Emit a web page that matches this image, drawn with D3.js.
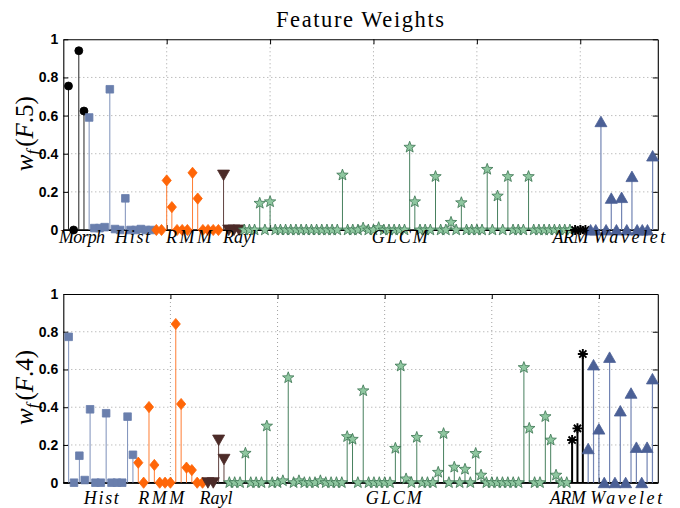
<!DOCTYPE html>
<html>
<head>
<meta charset="utf-8">
<script src="https://cdn.jsdelivr.net/npm/d3@7"></script>
<style>
body { margin: 0; background: #fff; }
</style>
</head>
<body>
<div id="chart"></div>
<script>
// feature weights for F.5 (top panel)
var morphF5 = [0.755, 0, 0.94, 0.624];
var histF5 = [0.59, 0.01, 0.01, 0.015, 0.738, 0.005, 0, 0.166, 0, 0, 0.005, 0, 0];
var rmmF5 = [0, 0, 0.26, 0.12, 0, 0, 0, 0.30, 0.165, 0, 0, 0, 0];
var raylF5 = [0.288, 0, 0, 0];
var glcmF5 = [0, 0, 0, 0.14, 0, 0.148,
  0, 0, 0, 0, 0, 0, 0, 0, 0, 0, 0, 0, 0,
  0.288, 0, 0, 0, 0.01, 0, 0, 0.012,
  0, 0, 0, 0, 0,
  0.434, 0.148, 0, 0, 0, 0.28, 0, 0, 0.04, 0, 0.143,
  0, 0, 0, 0, 0.318, 0, 0.178, 0, 0.28, 0, 0, 0, 0.28,
  0, 0, 0, 0, 0, 0, 0, 0];
var armF5 = [0, 0, 0];
var waveletF5 = [0, 0, 0.568, 0, 0.166, 0, 0.17, 0, 0.28, 0, 0, 0, 0.388];

// feature weights for F.4 (bottom panel, no Morph group)
var histF4 = [0.773, 0, 0.143, 0.014, 0.389, 0, 0, 0.368, 0, 0, 0, 0.35, 0.148];
var rmmF4 = [0.106, 0, 0.401, 0.094, 0, 0, 0, 0.841, 0.417, 0.08, 0.067, 0, 0];
var raylF4 = [0, 0, 0.226, 0.124];
var glcmF4 = [0, 0, 0, 0.156, 0, 0, 0, 0.30, 0, 0, 0.01, 0.556,
  0, 0.01, 0, 0, 0, 0.01, 0, 0, 0, 0,
  0.244, 0.23, 0, 0.487,
  0, 0, 0, 0, 0,
  0.182, 0.618, 0.02, 0, 0.24, 0, 0, 0, 0.055, 0.26, 0, 0.082, 0, 0.071, 0, 0.155, 0.04,
  0, 0, 0, 0, 0, 0, 0,
  0.61, 0.288, 0, 0, 0.35, 0.226, 0.04, 0, 0];
var armF4 = [0.226, 0.288, 0.682];
var waveletF4 = [0.18, 0.624, 0.284, 0, 0.664, 0, 0.38, 0, 0.474, 0.187, 0, 0.187, 0.55];

// group label positions (feature index units)
var labelPosF5 = [3.6, 13.4, 24.3, 34.1, 65.1, 98.1, 109.5];
var labelPosF4 = [7.1, 18.3, 28.5, 61.7, 94.2, 105.1];

var yTicks = [0, 0.2, 0.4, 0.6, 0.8, 1];
var yTickLabels = ["0", "0.2", "0.4", "0.6", "0.8", "1"];
var xGridTicks = [20, 40, 60, 80, 100];

var svgWidth = 680;
var svgHeight = 508;

var svg = d3.select("#chart")
  .append("svg")
  .attr("width", svgWidth)
  .attr("height", svgHeight)
  .style("font-family", "'Liberation Sans', Arial, sans-serif");

// star path for GLCM markers
function starPath(R, r) {
  var pts = [];
  for (var i = 0; i < 10; i++) {
    var a = -Math.PI / 2 + i * Math.PI / 5;
    var rad = i % 2 === 0 ? R : r;
    pts.push([rad * Math.cos(a), rad * Math.sin(a)]);
  }
  return "M" + pts.map(p => p[0].toFixed(2) + "," + p[1].toFixed(2)).join("L") + "Z";
}

var shapes = {
  circle: "M4,0A4,4 0 1,1 -4,0A4,4 0 1,1 4,0Z",
  square: "M-3.8,-3.8H3.8V3.8H-3.8Z",
  diamond: "M0,-5.6L4.6,0L0,5.6L-4.6,0Z",
  triDown: "M0,5.5L6,-5L-6,-5Z",
  triUp: "M0,-5.5L6,5L-6,5Z",
  star: starPath(6, 2.5),
  asterisk: "M-5,0H5M0,-5V5M-3.6,-3.6L3.6,3.6M-3.6,3.6L3.6,-3.6"
};

var groupStyle = {
  Morph:   {shape: "circle",   fill: "#000",    stroke: "#000",    stem: "#222",    sw: 1},
  Hist:    {shape: "square",   fill: "#6a7fad", stroke: "#6a7fad", stem: "#7d90ba", sw: 1},
  RMM:     {shape: "diamond",  fill: "#ff6608", stroke: "#ff6608", stem: "#ff7d33", sw: 1},
  Rayl:    {shape: "triDown",  fill: "#4c2b28", stroke: "#4c2b28", stem: "#60423f", sw: 1},
  GLCM:    {shape: "star",     fill: "#8fc7a0", stroke: "#3a7350", stem: "#47805e", sw: 1},
  ARM:     {shape: "asterisk", fill: "none",    stroke: "#000",    stem: "#000",    sw: 2},
  Wavelet: {shape: "triUp",    fill: "#4b6096", stroke: "#4b6096", stem: "#7284b3", sw: 1.2}
};

// rendered width of each group name (math italic look)
var labelWidth = {Morph: 46, Hist: 35, RMM: 46, Rayl: 33, GLCM: 56, ARM: 36, Wavelet: 72};

function drawPanel(groups, labelPos, top, bottom, labelOffset, yLabelSuffix) {
  var left = 63.3, right = 657.8;
  var total = d3.sum(groups, g => g.values.length);

  var x = d3.scaleLinear().domain([0, total + 1]).range([left, right]);
  var y = d3.scaleLinear().domain([0, 1]).range([bottom, top]);

  var g = svg.append("g");

  // dotted grid
  g.selectAll(".hgrid").data(yTicks.slice(1, -1)).enter()
    .append("line")
    .attr("x1", left).attr("x2", right)
    .attr("y1", d => y(d)).attr("y2", d => y(d))
    .attr("stroke", "#8a8a8a").attr("stroke-width", 0.8)
    .attr("stroke-dasharray", "1,3");
  g.selectAll(".vgrid").data(xGridTicks).enter()
    .append("line")
    .attr("x1", d => x(d)).attr("x2", d => x(d))
    .attr("y1", top).attr("y2", bottom)
    .attr("stroke", "#8a8a8a").attr("stroke-width", 0.8)
    .attr("stroke-dasharray", "1,3");

  // axes box with inward ticks
  g.append("g").attr("transform", `translate(${left},0)`)
    .call(d3.axisLeft(y).tickValues(yTicks).tickSize(-5).tickSizeOuter(0)
      .tickPadding(5).tickFormat((d, i) => yTickLabels[i]))
    .call(a => a.selectAll("text").attr("font-size", 14).attr("font-weight", "bold")
      .attr("fill", "#000").attr("font-family", "'Liberation Sans', Arial, sans-serif"));
  g.append("g").attr("transform", `translate(${right},0)`)
    .call(d3.axisRight(y).tickValues(yTicks).tickSize(-5).tickSizeOuter(0).tickFormat(""));
  g.append("g").attr("transform", `translate(0,${top})`)
    .call(d3.axisTop(x).tickValues(xGridTicks).tickSize(-5).tickSizeOuter(0).tickFormat(""));
  g.append("g").attr("transform", `translate(0,${bottom})`)
    .call(d3.axisBottom(x).tickValues(xGridTicks).tickSize(-5).tickSizeOuter(0).tickFormat(""));
  g.selectAll(".domain").attr("stroke", "#000").attr("stroke-width", 1.1);

  // baseline
  g.append("line")
    .attr("x1", left).attr("x2", right)
    .attr("y1", y(0)).attr("y2", y(0))
    .attr("stroke", "#000").attr("stroke-width", 1.6);

  // stems + markers per group
  var start = 1;
  groups.forEach(function(grp) {
    var st = groupStyle[grp.name];
    var pts = grp.values.map((v, i) => ({idx: start + i, v: v}));
    start += grp.values.length;

    g.selectAll(null).data(pts).enter()
      .append("line")
      .attr("x1", d => x(d.idx)).attr("x2", d => x(d.idx))
      .attr("y1", y(0)).attr("y2", d => y(d.v))
      .attr("stroke", st.stem).attr("stroke-width", st.sw);

    g.selectAll(null).data(pts).enter()
      .append("path")
      .attr("d", shapes[st.shape])
      .attr("transform", d => `translate(${x(d.idx)},${y(d.v)})`)
      .attr("fill", st.fill)
      .attr("stroke", st.stroke)
      .attr("stroke-width", st.shape === "asterisk" ? 1.9 : 0.8);
  });

  // group labels under the axis
  g.selectAll(".glabel").data(groups).enter()
    .append("text")
    .attr("x", (d, i) => x(labelPos[i]))
    .attr("y", bottom + labelOffset)
    .attr("text-anchor", "middle")
    .attr("font-family", "'Liberation Serif', 'Times New Roman', serif")
    .attr("font-style", "italic")
    .attr("font-size", 18)
    .attr("textLength", d => labelWidth[d.name])
    .attr("lengthAdjust", "spacing")
    .text(d => d.name);

  // y label w_f(F.x)
  var yl = g.append("text")
    .attr("transform", `translate(33,${(top + bottom) / 2 - 1}) rotate(-90)`)
    .attr("text-anchor", "middle")
    .attr("font-family", "'Liberation Serif', 'Times New Roman', serif")
    .attr("font-size", 25);
  yl.append("tspan").attr("font-style", "italic").text("w");
  yl.append("tspan").attr("font-style", "italic").attr("font-size", 17).attr("dy", 5).text("f");
  yl.append("tspan").attr("dy", -5).attr("dx", 3).text("(");
  yl.append("tspan").attr("font-style", "italic").text("F");
  yl.append("tspan").text("." + yLabelSuffix + ")");
}

// title
svg.append("text")
  .attr("x", 360)
  .attr("y", 27)
  .attr("text-anchor", "middle")
  .attr("font-family", "'Liberation Serif', 'Times New Roman', serif")
  .attr("font-size", 22.5)
  .attr("textLength", 168)
  .attr("lengthAdjust", "spacing")
  .text("Feature Weights");

drawPanel([
  {name: "Morph", values: morphF5},
  {name: "Hist", values: histF5},
  {name: "RMM", values: rmmF5},
  {name: "Rayl", values: raylF5},
  {name: "GLCM", values: glcmF5},
  {name: "ARM", values: armF5},
  {name: "Wavelet", values: waveletF5}
], labelPosF5, 39.3, 230, 12.5, "5");

drawPanel([
  {name: "Hist", values: histF4},
  {name: "RMM", values: rmmF4},
  {name: "Rayl", values: raylF4},
  {name: "GLCM", values: glcmF4},
  {name: "ARM", values: armF4},
  {name: "Wavelet", values: waveletF4}
], labelPosF4, 294, 482.7, 21, "4");
</script>
</body>
</html>
